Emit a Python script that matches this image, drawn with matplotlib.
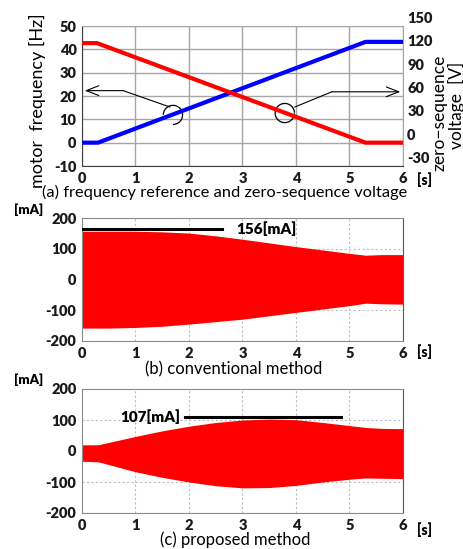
import matplotlib
matplotlib.use("Agg")
import matplotlib.pyplot as plt
import matplotlib.transforms as mtransforms
from matplotlib.patches import Arc

plt.rcParams['font.family'] = ['Lato', 'DejaVu Sans']

# (a) frequency reference [Hz] and zero-sequence voltage [V]
t_freq = [0, 0.3, 5.3, 6]
freq = [0, 0, 43.2, 43.2]
t_volt = [0, 0.28, 5.3, 6]
volt = [128, 128, 0, 0]

# (b) conventional method, current envelope [mA]
t_b = [0, 0.5, 1, 1.5, 2, 2.5, 3, 3.5, 4, 4.5, 5, 5.3, 5.6, 6]
b_up = [157, 157, 157, 155, 151, 142, 131, 119, 107, 96, 85, 79, 81, 81]
b_lo = [-158, -158, -156, -152, -145, -137, -129, -118, -107, -96, -85, -77, -79, -80]
b_peak = 156

# (c) proposed method, current envelope [mA]
t_c = [0, 0.3, 0.35, 1, 1.5, 2, 2.5, 3, 3.5, 4, 4.5, 5, 5.3, 5.6, 6]
c_up = [20, 20, 22, 47, 65, 80, 92, 100, 103, 101, 92, 82, 76, 73, 72]
c_lo = [-33, -35, -37, -67, -85, -100, -112, -119, -118, -111, -100, -91, -87, -88, -89]
c_peak = 107

x_ticks = [0, 1, 2, 3, 4, 5, 6]
freq_ticks = [-10, 0, 10, 20, 30, 40, 50]
volt_ticks = [-30, 0, 30, 60, 90, 120, 150]
ma_ticks = [-200, -100, 0, 100, 200]
W, H = 464, 549


def fpos(x, y):
    return x / W, 1 - y / H


def axbox(top, bottom):
    return [82 / W, 1 - bottom / H, 321 / W, (bottom - top) / H]


fig = plt.figure(figsize=(4.64, 5.49), dpi=100)
tk = dict(fontsize=10.5, fontweight='heavy', color='#1a1a1a')

# ---------- (a) ----------
ax = fig.add_axes(axbox(26, 166))
ax.plot(t_freq, freq, color='#0000ff', lw=3, solid_capstyle='butt', zorder=3)
ax.set_xlim(0, 6)
ax.set_ylim(-10, 50)
ax.set_xticks(x_ticks, [str(v) for v in x_ticks], **tk)
ax.set_yticks(freq_ticks, [str(v) for v in freq_ticks], **tk)
ax.grid(True, color='#a6a6a6', lw=1)
ax.set_axisbelow(True)
ax.tick_params(length=0, pad=4)
for s in ['left', 'bottom']:
    ax.spines[s].set_color('#404040')
for s in ['top', 'right']:
    ax.spines[s].set_color('#a6a6a6')

ax2 = ax.twinx()
ax2.plot(t_volt, volt, color='#ff0000', lw=3, solid_capstyle='butt', zorder=3)
ax2.set_ylim(-30, 150)
ax2.set_yticks(volt_ticks, [str(v) for v in volt_ticks], **tk)
ax2.tick_params(length=0, pad=3)
for lab in ax2.get_yticklabels():
    lab.set_transform(lab.get_transform() + mtransforms.ScaledTranslation(0, 8.5 / 100, fig.dpi_scale_trans))
for s in ax2.spines.values():
    s.set_visible(False)

# arrows with the loop markers
ax.plot([1.64, 0.77], [15.3, 22.3], color='black', lw=0.8)
ax.annotate('', xy=(0.05, 22.3), xytext=(0.77, 22.3),
            arrowprops=dict(arrowstyle='->,head_length=0.9,head_width=0.35', lw=0.8, color='black',
                            shrinkA=0, shrinkB=0))
ax.add_patch(Arc((1.70, 11.9), 0.36, 8.2, theta1=-90, theta2=170, color='black', lw=0.9))
ax.plot([3.98, 4.67], [15.3, 21.8], color='black', lw=0.8)
ax.annotate('', xy=(5.95, 21.8), xytext=(4.67, 21.8),
            arrowprops=dict(arrowstyle='->,head_length=0.9,head_width=0.35', lw=0.8, color='black',
                            shrinkA=0, shrinkB=0))
ax.add_patch(Arc((3.79, 12.7), 0.36, 8.2, theta1=34, theta2=321, color='black', lw=0.9))

fig.text(*fpos(37, 101), 'motor  frequency [Hz]', rotation=90, ha='center', va='center', fontsize=13)
fig.text(*fpos(440, 113), 'zero\u2212sequence', rotation=90, ha='center', va='center', fontsize=12.5)
fig.text(*fpos(456, 105), 'voltage  [V]', rotation=90, ha='center', va='center', fontsize=12.5)
fig.text(*fpos(425, 180), '[s]', ha='center', va='center', fontsize=10, fontweight='heavy')
fig.text(*fpos(225, 192), '(a) frequency reference and zero-sequence voltage', ha='center', va='center',
         fontsize=11.8)


def current_panel(top, bottom, t, up, lo):
    a = fig.add_axes(axbox(top, bottom))
    a.fill_between(t, lo, up, color='#ff0000', lw=0, zorder=2)
    a.set_xlim(0, 6)
    a.set_ylim(-200, 200)
    a.set_xticks(x_ticks, [str(v) for v in x_ticks], **tk)
    a.set_yticks(ma_ticks, [str(v) for v in ma_ticks], **tk)
    a.grid(True, color='#bfbfbf', lw=0.8, ls=(0, (2, 2)))
    a.set_axisbelow(True)
    a.tick_params(length=0, pad=4)
    for s in a.spines.values():
        s.set_color('#8c8c8c')
    a.spines['right'].set_color('#595959')
    return a


# ---------- (b) ----------
axb = current_panel(218, 341, t_b, b_up, b_lo)
axb.plot([0, 2.62], [b_peak + 8, b_peak + 8], color='black', lw=2.2, zorder=3)
axb.text(2.88, b_peak + 10, '%d[mA]' % b_peak, ha='left', va='center', fontsize=11, fontweight='heavy')
fig.text(*fpos(29, 210), '[mA]', ha='center', va='center', fontsize=9.5, fontweight='heavy')
fig.text(*fpos(425, 352), '[s]', ha='center', va='center', fontsize=10, fontweight='heavy')
fig.text(*fpos(234, 369), '(b) conventional method', ha='center', va='center', fontsize=12)

# ---------- (c) ----------
axc = current_panel(389, 513, t_c, c_up, c_lo)
axc.plot([1.93, 4.84], [c_peak + 2, c_peak + 2], color='black', lw=2.2, zorder=3)
axc.text(1.84, c_peak + 5, '%d[mA]' % c_peak, ha='right', va='center', fontsize=11, fontweight='heavy')
fig.text(*fpos(29, 380), '[mA]', ha='center', va='center', fontsize=9.5, fontweight='heavy')
fig.text(*fpos(425, 530), '[s]', ha='center', va='center', fontsize=10, fontweight='heavy')
fig.text(*fpos(235, 540), '(c) proposed method', ha='center', va='center', fontsize=12)

fig.savefig('out.png', dpi=100)
